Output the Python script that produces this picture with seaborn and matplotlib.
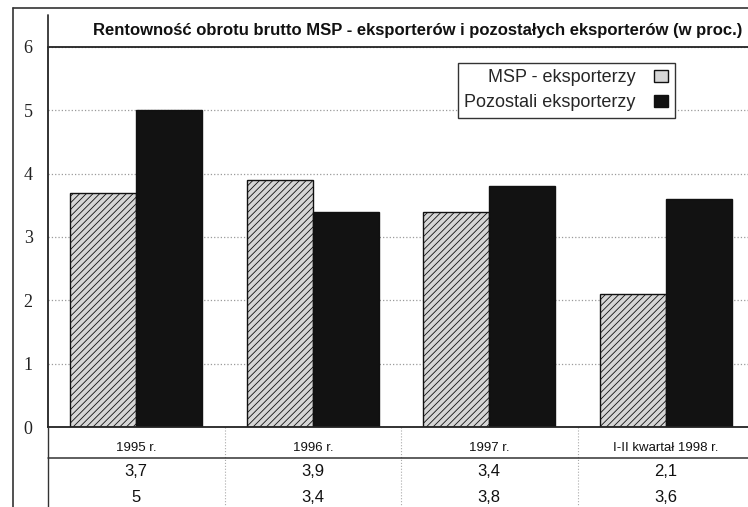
import matplotlib
matplotlib.use('Agg')
import matplotlib.pyplot as plt
from matplotlib.lines import Line2D
from matplotlib.transforms import blended_transform_factory
import seaborn as sns
import pandas as pd

# dane z wykresu
okresy = ['1995 r.', '1996 r.', '1997 r.', 'I-II kwartał 1998 r.']
grupy = ['MSP - eksporterzy', 'Pozostali eksporterzy']
msp = [3.7, 3.9, 3.4, 2.1]
pozostali = [5.0, 3.4, 3.8, 3.6]
tytul = 'Rentowność obrotu brutto MSP - eksporterów i pozostałych eksporterów (w proc.)'

df = pd.DataFrame({
    'okres': okresy * 2,
    'grupa': [grupy[0]] * len(okresy) + [grupy[1]] * len(okresy),
    'wartosc': msp + pozostali,
})

sns.set_style('white')
plt.rcParams['font.family'] = ['Liberation Sans', 'DejaVu Sans']
plt.rcParams['hatch.linewidth'] = 0.6

W, H = 748, 507
fig = plt.figure(figsize=(W / 100, H / 100), dpi=100)


def fx(px):
    return px / W


def fy(py):
    return 1 - py / H


# os wykresu: 0 przy y=427 px, 6 przy y=47 px
ax = fig.add_axes([fx(48), fy(427), fx(700), (427 - 47) / H])

sns.barplot(data=df, x='okres', y='wartosc', hue='grupa', palette=['#d6d6d6', '#121212'],
            width=0.75, edgecolor='#111111', linewidth=1.0, ax=ax, saturation=1)

for p in ax.containers[0]:
    p.set_hatch('/////')

ax.set_ylim(0, 6)
ax.set_xlim(-0.5, -0.5 + 700 / 176.5)
ax.set_yticks(range(0, 7))
ax.set_yticklabels([str(i) for i in range(0, 7)], family='Liberation Serif', fontsize=13, color='#222222')
ax.tick_params(axis='y', length=0, pad=11)
ax.set_xticks([])
ax.set_xlabel('')
ax.set_ylabel('')
ax.yaxis.grid(True, linestyle=':', color='#9a9a9a', linewidth=0.9)
ax.set_axisbelow(True)
for s in ['left', 'top', 'bottom']:
    ax.spines[s].set_color('#222222')
    ax.spines[s].set_linewidth(1.3)
ax.spines['right'].set_visible(False)

# legenda
handles, labels = ax.get_legend_handles_labels()
ax.legend(handles, labels, loc='upper left', bbox_to_anchor=(fx(458), fy(63)),
          bbox_transform=fig.transFigure, borderaxespad=0, markerfirst=False,
          fancybox=False, edgecolor='#333333', framealpha=1, fontsize=13,
          handlelength=0.8, handleheight=0.7, handletextpad=1.0,
          labelspacing=0.45, borderpad=0.35, title=None)
ax.get_legend().get_frame().set_linewidth(1.0)

# tytul w ramce
fig.text(fx(418), fy(30), tytul, ha='center', va='center', fontsize=12, fontweight='bold',
         color='#111111')

# ramka zewnetrzna
col = '#333333'
fig.add_artist(Line2D([fx(13), fx(13)], [fy(8), fy(507)], color=col, lw=1.2))
fig.add_artist(Line2D([fx(13), 1], [fy(8), fy(8)], color=col, lw=1.2))
fig.add_artist(Line2D([fx(48), fx(48)], [fy(15), fy(47)], color=col, lw=1.3))
fig.add_artist(Line2D([fx(48), fx(48)], [fy(427), fy(507)], color=col, lw=1.0))
fig.add_artist(Line2D([fx(48), 1], [fy(458), fy(458)], color=col, lw=1.1))

# tabela pod wykresem
tr = blended_transform_factory(ax.transData, fig.transFigure)
for i in range(len(okresy) - 1):
    ax.plot([i + 0.5, i + 0.5], [fy(427), fy(507)], transform=tr, color='#aaaaaa',
            lw=0.8, linestyle=':', clip_on=False)

for i, okres in enumerate(okresy):
    ax.text(i, fy(448), okres, transform=tr, ha='center', va='center', fontsize=9.5, color='#111111')
    ax.text(i, fy(472), f'{msp[i]:g}'.replace('.', ','), transform=tr, ha='center', va='center',
            fontsize=12, color='#111111')
    ax.text(i, fy(497), f'{pozostali[i]:g}'.replace('.', ','), transform=tr, ha='center', va='center',
            fontsize=12, color='#111111')

fig.savefig('out.png', dpi=100)
